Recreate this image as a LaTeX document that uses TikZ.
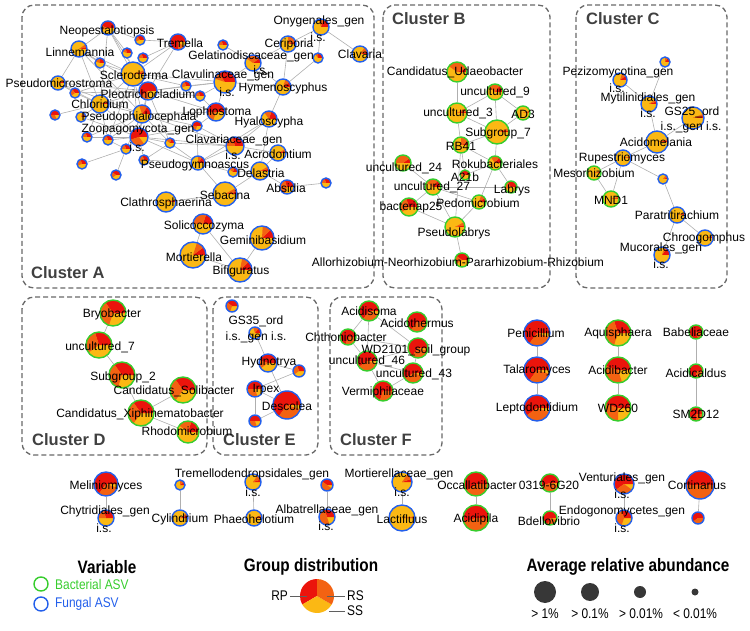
\documentclass[tikz,border=0pt]{standalone}
\usepackage{fontspec}
\setmainfont{Liberation Sans}
\newfontfamily\narrowfont{Liberation Sans}[FakeStretch=0.85]

\pgfdeclarelayer{back}
\pgfsetlayers{back,main}

\definecolor{rpred}{RGB}{235,20,12}
\definecolor{rsorange}{RGB}{243,98,18}
\definecolor{ssyellow}{RGB}{251,184,20}
\definecolor{bacgreen}{RGB}{55,205,45}
\definecolor{fungblue}{RGB}{35,95,235}
\definecolor{boxgray}{RGB}{105,105,105}
\definecolor{linkgray}{RGB}{175,175,175}
\definecolor{dotgray}{RGB}{55,55,55}

\tikzset{
  asv/.style={circle, inner sep=0pt, line width=1.4pt},
  bac/.style={asv, draw=bacgreen},
  fun/.style={asv, draw=fungblue},
  lab/.style={inner sep=0pt, font=\fontsize{12}{12}\selectfont},
  cluster/.style={draw=boxgray, line width=1.3pt, dash pattern=on 5pt off 3pt, rounded corners=12pt},
  cltitle/.style={anchor=west, inner sep=0pt, text=black!75, font=\fontsize{16.5}{16.5}\selectfont\bfseries},
  legtitle/.style={inner sep=0pt, font=\narrowfont\fontsize{18}{18}\selectfont\bfseries},
  legtext/.style={inner sep=0pt, font=\narrowfont\fontsize{14}{14}\selectfont},
  dot/.style={circle, inner sep=0pt, fill=dotgray},
}

% pie node: name, position, radius, RP %, RS %, kind
\newcommand{\asvpie}[6]{%
  \fill[ssyellow] (#2) circle[radius=#3pt];
  \fill[rpred] (#2) -- ++(0:#3pt) arc[start angle=0, delta angle=3.6*#4, radius=#3pt] -- cycle;
  \fill[rsorange] (#2) -- ++(3.6*#4:#3pt) arc[start angle=3.6*#4, delta angle=3.6*#5, radius=#3pt] -- cycle;
  \node[#6, minimum size=2*#3pt] (#1) at (#2) {};
}

\begin{document}
\begin{tikzpicture}[x=1pt, y=-1pt]
  \useasboundingbox (0,0) rectangle (750,631);

  % cluster frames
  \draw[cluster] (22,5) rectangle (374,288);
  \draw[cluster] (383,5) rectangle (550,288);
  \draw[cluster] (576,5) rectangle (727,288);
  \draw[cluster] (22,297) rectangle (207,455);
  \draw[cluster] (213,297) rectangle (318,455);
  \draw[cluster] (330,297) rectangle (442,455);
  \node[cltitle] (ttlA) at (31,273) {Cluster A};
  \node[cltitle] (ttlB) at (392,19) {Cluster B};
  \node[cltitle] (ttlC) at (586,19) {Cluster C};
  \node[cltitle] (ttlD) at (32,440) {Cluster D};
  \node[cltitle] (ttlE) at (223,440) {Cluster E};
  \node[cltitle] (ttlF) at (340,440) {Cluster F};

  % cluster A
  \asvpie{neop}{108,28}{7}{45}{10}{fun}
  \asvpie{a1}{140,40}{5}{35}{20}{fun}
  \asvpie{trem}{178,42}{8}{75}{15}{fun}
  \asvpie{linn}{79,49}{8}{4}{6}{fun}
  \asvpie{a2}{127,53}{5}{30}{15}{fun}
  \asvpie{a3}{143,58}{5}{30}{20}{fun}
  \asvpie{a4}{100,63}{5}{25}{20}{fun}
  \asvpie{a5}{223,45}{5}{30}{20}{fun}
  \asvpie{scle}{133,74}{12}{2}{3}{fun}
  \asvpie{pmic}{58,83}{7}{4}{4}{fun}
  \asvpie{a6}{75,93}{5}{35}{25}{fun}
  \asvpie{pleo}{148,91}{9}{60}{15}{fun}
  \asvpie{a7}{186,86}{5}{30}{25}{fun}
  \asvpie{a8}{200,96}{5}{30}{20}{fun}
  \asvpie{clvl}{225,82}{11}{35}{10}{fun}
  \asvpie{gela}{253,63}{8}{10}{30}{fun}
  \asvpie{ceri}{288,44}{8}{5}{20}{fun}
  \asvpie{onyg}{321,27}{8}{20}{10}{fun}
  \asvpie{a9}{318,58}{5}{25}{10}{fun}
  \asvpie{clva}{360,54}{8}{5}{10}{fun}
  \asvpie{hyme}{283,87}{8}{10}{10}{fun}
  \asvpie{chlo}{100,104}{9}{3}{3}{fun}
  \asvpie{a10}{55,115}{5}{50}{30}{fun}
  \asvpie{a11}{81,117}{5}{10}{10}{fun}
  \asvpie{pphi}{142,114}{9}{15}{15}{fun}
  \asvpie{loph}{216,112}{9}{50}{20}{fun}
  \asvpie{hyal}{269,119}{8}{20}{15}{fun}
  \asvpie{a12}{197,126}{5}{50}{20}{fun}
  \asvpie{zoop}{139,137}{9}{55}{30}{fun}
  \asvpie{a13}{87,137}{5}{30}{20}{fun}
  \asvpie{a14}{108,140}{5}{30}{20}{fun}
  \asvpie{a15}{170,143}{5}{20}{20}{fun}
  \asvpie{a16}{126,149}{5}{30}{20}{fun}
  \asvpie{clvr}{235,146}{9}{30}{20}{fun}
  \asvpie{acro}{278,153}{8}{4}{4}{fun}
  \asvpie{a17}{144,160}{5}{30}{25}{fun}
  \asvpie{pgym}{198,163}{7}{15}{10}{fun}
  \asvpie{a18}{82,164}{5}{30}{25}{fun}
  \asvpie{a19}{116,175}{5}{40}{20}{fun}
  \asvpie{a20}{233,172}{5}{20}{20}{fun}
  \asvpie{dela}{260,171}{9}{4}{4}{fun}
  \asvpie{seba}{225,194}{12}{3}{5}{fun}
  \asvpie{absi}{287,187}{7}{30}{40}{fun}
  \asvpie{a21}{326,183}{5}{30}{20}{fun}
  \asvpie{clat}{166,202}{10}{2}{2}{fun}
  \asvpie{soli}{203,224}{10}{20}{30}{fun}
  \asvpie{gemi}{262,238}{12}{12}{12}{fun}
  \asvpie{mort}{193,255}{13}{10}{10}{fun}
  \asvpie{bifi}{240,270}{12}{12}{10}{fun}

  % cluster B
  \asvpie{udae}{457,72}{10}{5}{35}{bac}
  \asvpie{unc9}{495,92}{8}{15}{25}{bac}
  \asvpie{unc3}{457,113}{10}{3}{5}{bac}
  \asvpie{ad3}{523,113}{7}{2}{3}{bac}
  \asvpie{sub7}{497,132}{12}{2}{3}{bac}
  \asvpie{rb41}{461,145}{8}{5}{20}{bac}
  \asvpie{roku}{495,163}{7}{15}{20}{bac}
  \asvpie{a21b}{465,175}{5}{40}{20}{bac}
  \asvpie{unc24}{403,163}{8}{10}{40}{bac}
  \asvpie{unc27}{433,187}{8}{15}{25}{bac}
  \asvpie{labr}{511,187}{6}{35}{20}{bac}
  \asvpie{pedo}{479,202}{7}{10}{10}{bac}
  \asvpie{bp25}{409,207}{9}{30}{30}{bac}
  \asvpie{plab}{455,227}{10}{3}{5}{bac}
  \asvpie{allo}{462,260}{7}{40}{20}{bac}

  % cluster C
  \asvpie{c1}{665,62}{5}{15}{10}{fun}
  \asvpie{pezi}{620,80}{7}{10}{10}{fun}
  \asvpie{myti}{649,104}{8}{5}{5}{fun}
  \asvpie{gs25}{693,118}{11}{3}{3}{fun}
  \asvpie{acdm}{657,142}{11}{2}{2}{fun}
  \asvpie{rupe}{623,158}{8}{2}{2}{fun}
  \asvpie{c2}{663,179}{5}{5}{10}{fun}
  \asvpie{meso}{594,173}{7}{2}{3}{bac}
  \asvpie{mnd1}{611,199}{8}{2}{3}{bac}
  \asvpie{para}{677,215}{8}{2}{3}{fun}
  \asvpie{chro}{705,238}{8}{2}{2}{fun}
  \asvpie{muco}{662,255}{8}{15}{5}{fun}

  % cluster D
  \asvpie{bryo}{113,313}{13}{35}{35}{bac}
  \asvpie{unc7}{99,345}{13}{30}{30}{bac}
  \asvpie{sub2}{122,375}{13}{35}{35}{bac}
  \asvpie{csol}{183,390}{13}{35}{30}{bac}
  \asvpie{xiph}{141,413}{13}{35}{30}{bac}
  \asvpie{rhod}{188,432}{11}{20}{20}{bac}

  % cluster E
  \asvpie{e1}{232,306}{6}{40}{30}{fun}
  \asvpie{gs35}{255,333}{6}{15}{15}{fun}
  \asvpie{hydn}{268,363}{9}{45}{15}{fun}
  \asvpie{e2}{299,371}{6}{30}{30}{fun}
  \asvpie{irpe}{255,389}{8}{50}{30}{fun}
  \asvpie{desc}{287,405}{14}{65}{30}{fun}
  \asvpie{e3}{255,421}{6}{50}{30}{fun}

  % cluster F
  \asvpie{acdi}{369,311}{10}{65}{30}{bac}
  \asvpie{acdt}{417,322}{10}{65}{35}{bac}
  \asvpie{chth}{348,337}{8}{70}{30}{bac}
  \asvpie{wd21}{418,348}{10}{65}{30}{bac}
  \asvpie{u46}{367,361}{10}{60}{35}{bac}
  \asvpie{u43}{413,373}{10}{60}{35}{bac}
  \asvpie{verm}{383,391}{10}{70}{30}{bac}

  % small modules
  \asvpie{peni}{537,333}{13}{65}{30}{fun}
  \asvpie{tala}{537,370}{13}{65}{30}{fun}
  \asvpie{lept}{537,408}{13}{60}{35}{fun}
  \asvpie{aqui}{618,333}{13}{30}{40}{bac}
  \asvpie{acib}{618,370}{13}{45}{35}{bac}
  \asvpie{wd26}{618,408}{13}{45}{30}{bac}
  \asvpie{babe}{696,332}{7}{80}{20}{bac}
  \asvpie{acic}{696,371}{7}{75}{25}{bac}
  \asvpie{sm2d}{696,414}{7}{75}{25}{bac}

  \asvpie{meli}{106,484}{12}{65}{30}{fun}
  \asvpie{chyt}{106,518}{8}{30}{20}{fun}
  \asvpie{g1}{180,485}{5}{10}{15}{fun}
  \asvpie{cyli}{180,518}{8}{5}{5}{fun}
  \asvpie{trdp}{253,482}{8}{5}{10}{fun}
  \asvpie{phae}{254,518}{8}{3}{3}{fun}
  \asvpie{g2}{327,485}{6}{40}{50}{fun}
  \asvpie{alba}{327,517}{8}{30}{50}{fun}
  \asvpie{mrlc}{402,482}{10}{5}{10}{fun}
  \asvpie{lact}{402,518}{13}{1}{1}{fun}
  \asvpie{occa}{476,484}{12}{60}{40}{bac}
  \asvpie{acip}{476,518}{13}{55}{45}{bac}
  \asvpie{g20}{550,483}{9}{55}{40}{bac}
  \asvpie{bdel}{550,518}{7}{70}{25}{bac}
  \asvpie{vent}{624,484}{10}{60}{30}{fun}
  \asvpie{endo}{624,518}{8}{30}{40}{fun}
  \asvpie{cort}{700,485}{14}{50}{50}{fun}
  \asvpie{g3}{698,518}{6}{60}{40}{fun}

  % links
  \begin{pgfonlayer}{back}
  \begin{scope}[every edge/.style={draw=linkgray, line width=0.6pt}]
    \path (neop) edge (scle) edge (linn) edge (a2) edge (pleo) edge (chlo) edge (a1);
    \path (trem) edge (scle) edge (a3) edge (pleo) edge (a1);
    \path (linn) edge (scle) edge (chlo) edge (pleo) edge (pphi) edge (a4) edge (pmic);
    \path (scle) edge (a2) edge (a3) edge (a4) edge (pleo) edge (chlo) edge (pphi) edge (zoop) edge (clvl) edge (a7) edge (a6) edge (a14);
    \path (pmic) edge (pleo) edge (chlo) edge (a6) edge (pphi);
    \path (pleo) edge (chlo) edge (pphi) edge (zoop) edge (a7) edge (a8) edge (loph) edge (clvl) edge (a6) edge (a15);
    \path (chlo) edge (pphi) edge (zoop) edge (a11) edge (a13) edge (a10) edge (a14) edge (a6);
    \path (pphi) edge (zoop) edge (a14) edge (a15) edge (loph) edge (a12) edge (clvr) edge (a16) edge (a13);
    \path (zoop) edge (a13) edge (a14) edge (a16) edge (a15) edge (a17) edge (a12) edge (clvr) edge (pgym) edge (a11);
    \path (a16) edge (a18) edge (a19) edge (a14);
    \path (a17) edge (a15) edge (pgym);
    \path (loph) edge (clvl) edge (a12) edge (a8);
    \path (clvl) edge (a7) edge (a8) edge (hyme) edge (gela);
    \path (a12) edge (clvr) edge (pgym);
    \path (clvr) edge (hyal) edge (acro) edge (pgym) edge (a15);
    \path (gela) edge (a5) edge (ceri) edge (hyme);
    \path (onyg) edge (ceri) edge (clva) edge (a9);
    \path (hyme) edge (ceri) edge (a9) edge (hyal);
    \path (hyal) edge (dela) edge (pgym);
    \path (pgym) edge (seba) edge (a20) edge (a15);
    \path (dela) edge (a20) edge (seba) edge (absi) edge (acro);
    \path (absi) edge (a21);
    \path (seba) edge (clat);
    \path (soli) edge (mort) edge (bifi);
    \path (bifi) edge (mort) edge (gemi);

    \path (udae) edge (unc3);
    \path (unc9) edge (unc3) edge (sub7) edge (ad3);
    \path (unc3) edge (sub7) edge (rb41);
    \path (sub7) edge (ad3) edge (rb41) edge (roku);
    \path (rb41) edge (roku) edge (a21b) edge (plab);
    \path (roku) edge (labr) edge (pedo) edge (a21b);
    \path (unc27) edge (unc24) edge (bp25) edge (plab) edge (labr) edge (pedo);
    \path (plab) edge (bp25) edge (pedo) edge (allo);

    \path (myti) edge (c1) edge (pezi) edge (acdm);
    \path (acdm) edge (gs25) edge (rupe);
    \path (rupe) edge (meso) edge (mnd1) edge (c2);
    \path (meso) edge (mnd1);
    \path (c2) edge (para);
    \path (para) edge (chro) edge (muco);

    \path (bryo) edge (unc7);
    \path (unc7) edge (sub2);
    \path (sub2) edge (xiph);
    \path (xiph) edge (csol) edge (rhod);

    \path (gs35) edge (hydn);
    \path (hydn) edge (e2) edge (desc);
    \path (irpe) edge (e2) edge (desc) edge (e3);
    \path (desc) edge (e3);

    \path (acdi) edge (chth) edge (u46) edge (wd21);
    \path (chth) edge (u46) edge (wd21);
    \path (u46) edge (wd21) edge (u43) edge (verm);
    \path (u43) edge (wd21) edge (verm);

    \path (peni) edge (tala);
    \path (tala) edge (lept);
    \path (aqui) edge (acib);
    \path (acib) edge (wd26);
    \path (babe) edge (acic);
    \path (acic) edge (sm2d);

    \path (meli) edge (chyt);
    \path (g1) edge (cyli);
    \path (trdp) edge (phae);
    \path (g2) edge (alba);
    \path (mrlc) edge (lact);
    \path (occa) edge (acip);
    \path (g20) edge (bdel);
    \path (vent) edge (endo);
    \path (cort) edge (g3);
  \end{scope}
  \end{pgfonlayer}

  % taxon labels
  \begin{scope}[every node/.style={lab}]
    \node (t-neop) at (107,31) {Neopestalotiopsis};
    \node (t-trem) at (180,43) {Tremella};
    \node (t-linn) at (80,52) {Linnemannia};
    \node (t-scle) at (134,75) {Scleroderma};
    \node (t-pmic) at (59,83) {Pseudomicrostroma};
    \node (t-pleo) at (148,94) {Pleotrichocladium};
    \node (t-chlo) at (100,104) {Chloridium};
    \node (t-pphi) at (139,117) {Pseudophialocephala};
    \node (t-zoop) at (138,130) {Zoopagomycota\_gen};
    \node (i-zoop) at (137,147) {i.s.};
    \node (t-clvl) at (223,75) {Clavulinaceae\_gen};
    \node (i-clvl) at (227,92) {i.s.};
    \node (t-gela) at (251,56) {Gelatinodiscaceae\_gen};
    \node (i-gela) at (261,70) {i.s.};
    \node (t-ceri) at (289,44) {Ceriporia};
    \node (t-onyg) at (319,21) {Onygenales\_gen};
    \node (i-onyg) at (318,37) {i.s.};
    \node (t-clva) at (360,54) {Clavaria};
    \node (t-hyme) at (283,88) {Hymenoscyphus};
    \node (t-loph) at (217,112) {Lophiostoma};
    \node (t-hyal) at (269,122) {Hyaloscypha};
    \node (t-clvr) at (234,140) {Clavariaceae\_gen};
    \node (i-clvr) at (233,155) {i.s.};
    \node (t-acro) at (278,154) {Acrodontium};
    \node (t-pgym) at (195,165) {Pseudogymnoascus};
    \node (t-dela) at (261,173) {Delastria};
    \node (t-absi) at (286,188) {Absidia};
    \node (t-seba) at (225,195) {Sebacina};
    \node (t-clat) at (166,203) {Clathrosphaerina};
    \node (t-soli) at (204,226) {Solicoccozyma};
    \node (t-gemi) at (263,240) {Geminibasidium};
    \node (t-mort) at (194,257) {Mortierella};
    \node (t-bifi) at (241,271) {Bifiguratus};

    \node (t-udae) at (455,72) {Candidatus\_Udaeobacter};
    \node (t-unc9) at (495,92) {uncultured\_9};
    \node (t-unc3) at (458,113) {uncultured\_3};
    \node (t-ad3) at (523,114) {AD3};
    \node (t-sub7) at (498,133) {Subgroup\_7};
    \node (t-rb41) at (461,146) {RB41};
    \node (t-roku) at (495,164) {Rokubacteriales};
    \node (t-a21b) at (465,177) {A21b};
    \node (t-unc24) at (404,168) {uncultured\_24};
    \node (t-unc27) at (432,187) {uncultured\_27};
    \node (t-labr) at (512,190) {Labrys};
    \node (t-pedo) at (478,203) {Pedomicrobium};
    \node (t-bp25) at (411,207) {bacteriap25};
    \node (t-plab) at (454,233) {Pseudolabrys};
    \node (t-allo) at (458,262) {Allorhizobium-Neorhizobium-Pararhizobium-Rhizobium};

    \node (t-pezi) at (618,72) {Pezizomycotina\_gen};
    \node (i-pezi) at (617,88) {i.s.};
    \node (t-myti) at (648,98) {Mytilinidiales\_gen};
    \node (i-myti) at (648,113) {i.s.};
    \node (t-gs25) at (692,112) {GS25\_ord};
    \node (i-gs25) at (691,127) {i.s.\_gen i.s.};
    \node (t-acdm) at (656,142) {Acidomelania};
    \node (t-rupe) at (622,158) {Rupestriomyces};
    \node (t-meso) at (594,173) {Mesorhizobium};
    \node (t-mnd1) at (611,200) {MND1};
    \node (t-para) at (677,215) {Paratritirachium};
    \node (t-chro) at (704,238) {Chroogomphus};
    \node (t-muco) at (661,248) {Mucorales\_gen};
    \node (i-muco) at (661,264) {i.s.};

    \node (t-bryo) at (112,314) {Bryobacter};
    \node (t-unc7) at (100,347) {uncultured\_7};
    \node (t-sub2) at (123,377) {Subgroup\_2};
    \node (t-csol) at (174,391) {Candidatus\_Solibacter};
    \node (t-xiph) at (140,414) {Candidatus\_Xiphinematobacter};
    \node (t-rhod) at (187,431) {Rhodomicrobium};

    \node (t-gs35) at (256,321) {GS35\_ord};
    \node (i-gs35) at (256,337) {i.s.\_gen i.s.};
    \node (t-hydn) at (269,362) {Hydnotrya};
    \node (t-irpe) at (266,390) {Irpex};
    \node (t-desc) at (287,406) {Descolea};

    \node (t-acdi) at (369,311) {Acidisoma};
    \node (t-acdt) at (417,323) {Acidothermus};
    \node (t-chth) at (346,337) {Chthoniobacter};
    \node (t-wd21) at (416,350) {WD2101\_soil\_group};
    \node (t-u46) at (367,361) {uncultured\_46};
    \node (t-u43) at (414,374) {uncultured\_43};
    \node (t-verm) at (383,392) {Vermiphilaceae};

    \node (t-peni) at (536,333) {Penicillium};
    \node (t-tala) at (537,370) {Talaromyces};
    \node (t-lept) at (537,408) {Leptodontidium};
    \node (t-aqui) at (618,333) {Aquisphaera};
    \node (t-acib) at (618,370) {Acidibacter};
    \node (t-wd26) at (618,408) {WD260};
    \node (t-babe) at (696,332) {Babeliaceae};
    \node (t-acic) at (696,373) {Acidicaldus};
    \node (t-sm2d) at (696,414) {SM2D12};

    \node (t-meli) at (106,486) {Meliniomyces};
    \node (t-chyt) at (105,511) {Chytridiales\_gen};
    \node (i-chyt) at (104,528) {i.s.};
    \node (t-cyli) at (180,519) {Cylindrium};
    \node (t-trdp) at (252,474) {Tremellodendropsidales\_gen};
    \node (i-trdp) at (253,492) {i.s.};
    \node (t-phae) at (254,519) {Phaeohelotium};
    \node (t-alba) at (327,510) {Albatrellaceae\_gen};
    \node (i-alba) at (326,526) {i.s.};
    \node (t-mrlc) at (399,474) {Mortierellaceae\_gen};
    \node (i-mrlc) at (402,492) {i.s.};
    \node (t-lact) at (402,519) {Lactifluus};
    \node (t-occa) at (477,485) {Occallatibacter};
    \node (t-g20) at (549,485) {0319-6G20};
    \node (t-acip) at (476,519) {Acidipila};
    \node (t-bdel) at (549,521) {Bdellovibrio};
    \node (t-vent) at (622,478) {Venturiales\_gen};
    \node (i-vent) at (622,494) {i.s.};
    \node (t-endo) at (622,511) {Endogonomycetes\_gen};
    \node (i-endo) at (622,528) {i.s.};
    \node (t-cort) at (697,485) {Cortinarius};
  \end{scope}

  % legend: variable
  \node[legtitle] (leg-var) at (107,567) {Variable};
  \node[bac, minimum size=14pt] (leg-bac) at (41,584) {};
  \node[legtext, anchor=west, text=bacgreen] (leg-bac-t) at (55,584) {Bacterial ASV};
  \node[fun, minimum size=14pt] (leg-fun) at (41,604) {};
  \node[legtext, anchor=west, text=fungblue] (leg-fun-t) at (55,604) {Fungal ASV};

  % legend: groups
  \node[legtitle] (leg-grp) at (311,567) {Group distribution};
  \node[circle, inner sep=0pt, minimum size=34pt] (leg-pie) at (317,596) {};
  \fill[rpred] (leg-pie.center) -- ++(90:17pt) arc[start angle=90, end angle=210, radius=17pt] -- cycle;
  \fill[ssyellow] (leg-pie.center) -- ++(210:17pt) arc[start angle=210, end angle=330, radius=17pt] -- cycle;
  \fill[rsorange] (leg-pie.center) -- ++(330:17pt) arc[start angle=330, end angle=450, radius=17pt] -- cycle;
  \node[legtext, anchor=east] (leg-rp) at (288,596) {RP};
  \node[legtext, anchor=west] (leg-rs) at (347,596) {RS};
  \node[legtext, anchor=west] (leg-ss) at (347,611) {SS};
  \draw[dotgray!80, line width=0.8pt] ([xshift=2pt]leg-rp.east) -- ([xshift=-10pt]leg-pie.center);
  \draw[dotgray!80, line width=0.8pt] ([xshift=-2pt]leg-rs.west) -- ([xshift=10pt]leg-pie.center);
  \draw[dotgray!80, line width=0.8pt] ([xshift=-2pt]leg-ss.west) -- ([xshift=-18pt]leg-ss.west);

  % legend: abundance
  \node[legtitle] (leg-abu) at (628,567) {Average relative abundance};
  \node[dot, minimum size=22pt] (leg-s1) at (545,592) {};
  \node[dot, minimum size=18pt] (leg-s2) at (590,592) {};
  \node[dot, minimum size=12pt] (leg-s3) at (640,592) {};
  \node[dot, minimum size=7pt] (leg-s4) at (695,592) {};
  \node[legtext] (leg-s1-t) at (545,614) {> 1\%};
  \node[legtext] (leg-s2-t) at (590,614) {> 0.1\%};
  \node[legtext] (leg-s3-t) at (641,614) {> 0.01\%};
  \node[legtext] (leg-s4-t) at (695,614) {< 0.01\%};
\end{tikzpicture}
\end{document}
